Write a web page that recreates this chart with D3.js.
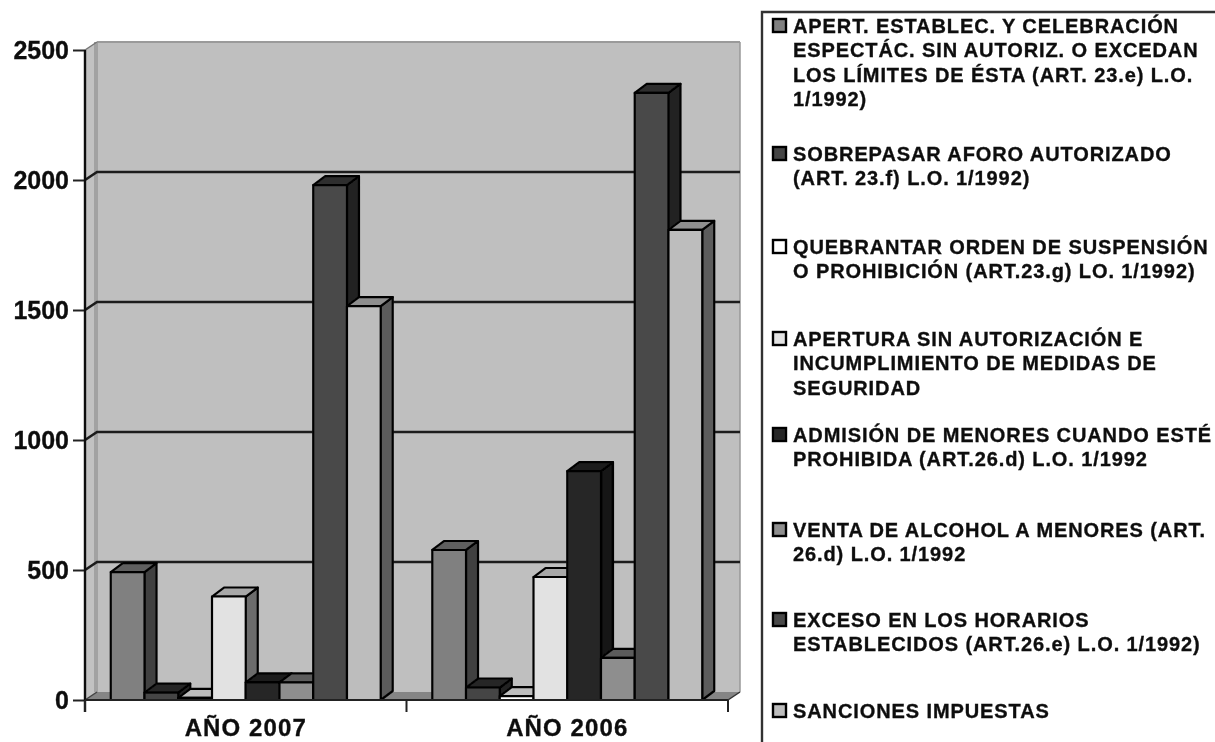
<!DOCTYPE html>
<html><head><meta charset="utf-8">
<script src="https://cdn.jsdelivr.net/npm/d3@7/dist/d3.min.js"></script>
<style>html,body{margin:0;padding:0;background:#fff;overflow:hidden}svg{display:block}
text{font-family:"Liberation Sans",Arial,sans-serif;font-weight:bold;fill:#111;stroke:#111;stroke-width:0.35px}</style>
</head><body><svg id="c" width="1215" height="742"></svg>
<script>
const categories = ["AÑO 2007", "AÑO 2006"];
const seriesKeys = ["apert","aforo","quebrantar","apertura","menores","alcohol","horarios","sanciones"];
const values2007 = [492, 28, 8, 398, 68, 68, 1980, 1515];
const values2006 = [577, 48, 15, 473, 880, 162, 2335, 1808];
const yTicks = [0, 500, 1000, 1500, 2000, 2500];
const legendLines = [
  ["APERT. ESTABLEC. Y CELEBRACIÓN","ESPECTÁC. SIN AUTORIZ. O EXCEDAN","LOS LÍMITES DE ÉSTA (ART. 23.e) L.O.","1/1992)"],
  ["SOBREPASAR AFORO AUTORIZADO","(ART. 23.f) L.O. 1/1992)"],
  ["QUEBRANTAR ORDEN DE SUSPENSIÓN","O PROHIBICIÓN (ART.23.g) LO. 1/1992)"],
  ["APERTURA SIN AUTORIZACIÓN E","INCUMPLIMIENTO DE MEDIDAS DE","SEGURIDAD"],
  ["ADMISIÓN DE MENORES CUANDO ESTÉ","PROHIBIDA (ART.26.d) L.O. 1/1992"],
  ["VENTA DE ALCOHOL A MENORES (ART.","26.d) L.O. 1/1992"],
  ["EXCESO EN LOS HORARIOS","ESTABLECIDOS (ART.26.e) L.O. 1/1992)"],
  ["SANCIONES IMPUESTAS"]
];
const frontColors = ["#808080","#454545","#ffffff","#e2e2e2","#282828","#8e8e8e","#4a4a4a","#bdbdbd"];
const sideColors  = ["#404040","#222222","#808080","#6c6c6c","#141414","#474747","#242424","#5c5c5c"];
const topColors   = ["#5e5e5e","#262626","#bdbdbd","#a8a8a8","#1c1c1c","#5c5c5c","#2d2d2d","#8e8e8e"];
const legendRowY = [26,154,247,339,435,530,620,711];

const svg = d3.select("#c");
const defs = svg.append("defs");
defs.append("filter").attr("id","soft").attr("x","-5%").attr("y","-5%").attr("width","110%").attr("height","110%")
  .append("feGaussianBlur").attr("stdDeviation",0.7);
const g = svg.append("g").attr("filter","url(#soft)");

const left=85,right=728,base=700,topY=50,dx=12,dy=-8,bdx=12,bdy=-9;
const y = d3.scaleLinear().domain([0,2500]).range([base,topY]);
const x0 = d3.scaleBand().domain(categories).range([left,right]);
const x1 = d3.scaleBand().domain(seriesKeys).range([0,x0.bandwidth()]).paddingInner(0).paddingOuter(0.764);

const pts = a=>a.map(p=>p.join(",")).join(" ");
// walls and floor
g.append("polygon").attr("points",pts([[left,base],[left+dx,base+dy],[left+dx,topY+dy],[left,topY]])).attr("fill","#c2c2c2");
g.append("rect").attr("x",left+9).attr("y",topY+dy).attr("width",4).attr("height",base-topY).attr("fill","#a2a2a2");
g.append("polygon").attr("points",pts([[left+dx+1,topY+dy],[right+dx,topY+dy],[right+dx,base+dy],[left+dx+1,base+dy]])).attr("fill","#bfbfbf");
g.append("polygon").attr("points",pts([[left,base],[left+dx,base+dy],[right+dx,base+dy],[right,base]])).attr("fill","#858585");
g.append("line").attr("x1",left+dx).attr("x2",right+dx).attr("y1",topY+dy).attr("y2",topY+dy).attr("stroke","#9a9a9a").attr("stroke-width",2);
g.append("line").attr("x1",right+dx).attr("x2",right+dx).attr("y1",topY+dy).attr("y2",base+dy).attr("stroke","#999").attr("stroke-width",1.5);
// gridlines
yTicks.filter(t=>t>0&&t<2500).forEach(t=>{
  g.append("polyline").attr("points",pts([[left,y(t)],[left+dx,y(t)+dy],[right+dx,y(t)+dy]]))
   .attr("fill","none").attr("stroke","#1c1c1c").attr("stroke-width",2.6);
});
g.append("polyline").attr("points",pts([[left,y(0)],[left+dx,y(0)+dy]])).attr("fill","none").attr("stroke","#444").attr("stroke-width",1.5);
g.append("polyline").attr("points",pts([[left,y(2500)],[left+dx,y(2500)+dy]])).attr("fill","none").attr("stroke","#777").attr("stroke-width",1.5);
g.append("polyline").attr("points",pts([[right,y(0)],[right+dx,y(0)+dy]])).attr("fill","none").attr("stroke","#333").attr("stroke-width",1.5);

// bars
const groups = [values2007, values2006];
categories.forEach((c,ci)=>{
  groups[ci].forEach((v,i)=>{
    const k=seriesKeys[i], xa=x0(c)+x1(k), w=x1.bandwidth(), yv=y(v), yb=y(0);
    const bar=g.append("g");
    const st=(s,col)=>s.attr("fill",col).attr("stroke","#050505").attr("stroke-width",2.2).attr("stroke-linejoin","round");
    st(bar.append("polygon").attr("points",pts([[xa+w,yb],[xa+w+bdx,yb+bdy],[xa+w+bdx,yv+bdy],[xa+w,yv]])),sideColors[i]);
    st(bar.append("polygon").attr("points",pts([[xa,yv],[xa+bdx,yv+bdy],[xa+w+bdx,yv+bdy],[xa+w,yv]])),topColors[i]);
    st(bar.append("rect").attr("x",xa).attr("y",yv).attr("width",w).attr("height",yb-yv),frontColors[i]);
  });
});

// axes
const yAxis = d3.axisLeft(y).tickValues(yTicks).tickSize(12).tickPadding(4).tickFormat(d3.format("d"));
const ya = g.append("g").attr("transform",`translate(${left},0)`).call(yAxis);
ya.selectAll("text").style("font-size","25px").style("font-family",'"Liberation Sans",Arial,sans-serif').style("font-weight","bold").style("fill","#111");
ya.selectAll("line").attr("stroke","#222").attr("stroke-width",2);
ya.select(".domain").remove();
g.append("line").attr("x1",left).attr("x2",left).attr("y1",topY).attr("y2",base+12).attr("stroke","#111").attr("stroke-width",2.4);
g.append("line").attr("x1",left).attr("x2",right).attr("y1",base).attr("y2",base).attr("stroke","#222").attr("stroke-width",2);

const xAxis = d3.axisBottom(x0).tickSize(0).tickPadding(19);
const xa = g.append("g").attr("transform",`translate(0,${base})`).call(xAxis);
xa.select(".domain").remove();
xa.selectAll("text").style("font-size","24px").style("letter-spacing","1.1px").style("font-family",'"Liberation Sans",Arial,sans-serif').style("font-weight","bold").style("fill","#111");
[left, x0(categories[1]), right].forEach(t=>{
  g.append("line").attr("x1",t).attr("x2",t).attr("y1",base).attr("y2",base+12).attr("stroke","#222").attr("stroke-width",2);
});

// legend
g.append("polyline").attr("points",pts([[1216,12],[762,12],[762,743]])).attr("fill","none").attr("stroke","#333").attr("stroke-width",2.4);
legendLines.forEach((lines,i)=>{
  const yy=legendRowY[i];
  g.append("rect").attr("x",773).attr("y",yy-7).attr("width",13).attr("height",13)
    .attr("fill",frontColors[i]).attr("stroke","#050505").attr("stroke-width",2.4);
  const t=g.append("text").attr("font-size",20).attr("letter-spacing",0.9);
  lines.forEach((s,j)=>t.append("tspan").attr("x",793).attr("y",yy+7+j*24.3).text(s));
});
</script></body></html>
